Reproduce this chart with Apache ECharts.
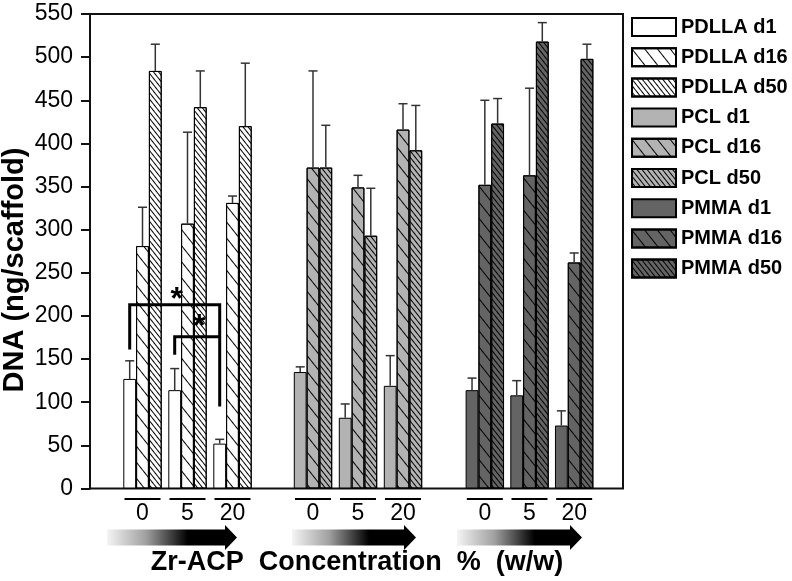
<!DOCTYPE html>
<html><head><meta charset="utf-8">
<script src="https://cdn.jsdelivr.net/npm/echarts@6/dist/echarts.min.js"></script>
<style>html,body{margin:0;padding:0;background:#fff}#c{width:792px;height:581px}</style>
</head><body><div id="c"></div>
<script>
// ---------- data ----------
const concentrations = ['0', '5', '20'];
const materials = ['PDLLA', 'PCL', 'PMMA'];
const days = ['d1', 'd16', 'd50'];

const PDLLA_d1  = [127, 114, 52];
const PDLLA_d16 = [281, 307, 331];
const PDLLA_d50 = [484, 442, 420];
const PCL_d1    = [135, 82, 119];
const PCL_d16   = [372, 349, 416];
const PCL_d50   = [372, 293, 392];
const PMMA_d1   = [114, 108, 73];
const PMMA_d16  = [352, 363, 262];
const PMMA_d50  = [423, 518, 498];

const PDLLA_d1_err  = [21, 25, 5];
const PDLLA_d16_err = [45, 106, 8];
const PDLLA_d50_err = [31, 42, 73];
const PCL_d1_err    = [6, 16, 35];
const PCL_d16_err   = [112, 14, 30];
const PCL_d50_err   = [49, 55, 52];
const PMMA_d1_err   = [14, 17, 17];
const PMMA_d16_err  = [98, 101, 11];
const PMMA_d50_err  = [29, 22, 17];

const yMin = 0, yMax = 550, yStep = 50;

// significance brackets on PDLLA d1: [fromCat, toCat, level, fromEnd, toEnd, starLevel]
const sigBrackets = [
  [0, 2, 213, 161, 95, 227],
  [1, 2, 176, 155, 176, 196]
];

const means = {
  PDLLA: [PDLLA_d1, PDLLA_d16, PDLLA_d50],
  PCL: [PCL_d1, PCL_d16, PCL_d50],
  PMMA: [PMMA_d1, PMMA_d16, PMMA_d50]
};
const errs = {
  PDLLA: [PDLLA_d1_err, PDLLA_d16_err, PDLLA_d50_err],
  PCL: [PCL_d1_err, PCL_d16_err, PCL_d50_err],
  PMMA: [PMMA_d1_err, PMMA_d16_err, PMMA_d50_err]
};

// ---------- style ----------
const FONT = '"Liberation Sans", Arial, sans-serif';
const BAR_W = 12.8;
const fills = ['#ffffff', '#b3b3b3', '#646464'];
const decals = [
  null,
  {symbol: 'rect', symbolSize: 1, dashArrayX: [1, 0], dashArrayY: [1, 9], rotation: 0.9, color: '#000'},
  {symbol: 'rect', symbolSize: 1, dashArrayX: [1, 0], dashArrayY: [1, 3], rotation: 0.9, color: '#000'}
];
const gridTop = 14, gridBottom = 92.5;
const dataGrids = [
  {left: 120, width: 135},
  {left: 290.5, width: 135},
  {left: 462.5, width: 134}
];

const grids = [{left: 90, right: 169, top: gridTop, bottom: gridBottom, show: true,
  borderColor: '#111', borderWidth: 2, backgroundColor: 'transparent'}];
dataGrids.forEach(g => grids.push({left: g.left, width: g.width, top: gridTop, bottom: gridBottom}));

const xAxes = [{type: 'value', gridIndex: 0, show: false, min: 0, max: 1}];
const yAxes = [{
  type: 'value', gridIndex: 0, min: yMin, max: yMax, interval: yStep,
  axisLine: {show: true, lineStyle: {color: '#111', width: 2}},
  axisTick: {show: true, length: 9, lineStyle: {color: '#111', width: 2}},
  axisLabel: {fontSize: 23, color: '#000', margin: 17, fontFamily: FONT},
  splitLine: {show: false}
}];
materials.forEach((m, i) => {
  xAxes.push({
    type: 'category', gridIndex: i + 1, data: concentrations,
    axisLine: {show: false}, axisTick: {show: false},
    axisLabel: {
      margin: 9.5, interval: 0,
      formatter: v => '{ln| }\n{t|' + v + '}',
      rich: {
        ln: {width: 36, height: 2, lineHeight: 2, backgroundColor: '#000', fontSize: 2},
        t: {fontSize: 23, lineHeight: 27, color: '#000', fontFamily: FONT}
      }
    }
  });
  yAxes.push({type: 'value', gridIndex: i + 1, min: yMin, max: yMax, show: false});
});

const series = [];
const legendNames = [];
materials.forEach((m, mi) => {
  days.forEach((d, di) => {
    const name = m + ' ' + d;
    legendNames.push(name);
    const itemStyle = {color: fills[mi], borderColor: '#000', borderWidth: 1};
    if (decals[di]) itemStyle.decal = decals[di];
    series.push({
      type: 'bar', name, xAxisIndex: mi + 1, yAxisIndex: mi + 1,
      data: means[m][di], barWidth: BAR_W, barGap: '0%', itemStyle, z: 2
    });
  });
  const errData = [];
  days.forEach((d, di) => {
    concentrations.forEach((c, ci) => errData.push([ci, means[m][di][ci], errs[m][di][ci], di]));
  });
  series.push({
    type: 'custom', name: m + ' err', xAxisIndex: mi + 1, yAxisIndex: mi + 1, z: 3,
    data: errData, encode: {x: 0, y: 1},
    renderItem: (params, api) => {
      const c = api.value(0), v = api.value(1), e = api.value(2), di = api.value(3);
      const top = api.coord([c, v + e]);
      const base = api.coord([c, v]);
      const x = top[0] + (di - 1) * BAR_W;
      const st = {stroke: '#333', lineWidth: 1.5};
      return {type: 'group', children: [
        {type: 'line', shape: {x1: x, y1: base[1], x2: x, y2: top[1]}, style: st},
        {type: 'line', shape: {x1: x - 4.5, y1: top[1], x2: x + 4.5, y2: top[1]}, style: st}
      ]};
    }
  });
});

series.push({
  type: 'custom', name: 'sig', xAxisIndex: 1, yAxisIndex: 1, z: 5,
  data: sigBrackets, encode: {x: 0, y: 2},
  renderItem: (params, api) => {
    const f = api.value(0), t = api.value(1), lv = api.value(2), fe = api.value(3), te = api.value(4), sl = api.value(5);
    const fx = api.coord([f, lv])[0] - BAR_W;
    const tx = api.coord([t, lv])[0] - BAR_W;
    const ly = api.coord([f, lv])[1];
    const fy = api.coord([f, fe])[1];
    const ty = api.coord([t, te])[1];
    const sy = api.coord([f, sl])[1];
    return {type: 'group', children: [
      {type: 'polyline', shape: {points: [[fx, fy], [fx, ly], [tx, ly], [tx, ty]]},
        style: {stroke: '#000', lineWidth: 3, fill: null, lineJoin: 'miter'}},
      {type: 'text', x: (fx + tx) / 2 + 2, y: sy + 8,
        style: {text: '*', fontSize: 32, fontWeight: 'bold', fill: '#000', fontFamily: FONT,
          align: 'center', verticalAlign: 'middle'}}
    ]};
  }
});

// decorative arrows
const arrowSpans = [[107, 237], [292, 416], [457, 582]];
const graphics = arrowSpans.map(([x0, tip]) => ({
  type: 'polygon', silent: true,
  shape: {points: [[x0, 529.5], [tip - 12, 529.5], [tip - 12, 525], [tip, 537.5], [tip - 12, 550], [tip - 12, 545.5], [x0, 545.5]]},
  style: {fill: new echarts.graphic.LinearGradient(0, 0, 1, 0, [
    {offset: 0, color: '#f4f4f4'}, {offset: 0.3, color: '#a0a0a0'}, {offset: 0.62, color: '#000'}, {offset: 1, color: '#000'}
  ])}
}));
graphics.push({
  type: 'text', x: 357, y: 563, silent: true,
  style: {text: 'Zr-ACP  Concentration  %  (w/w)', fontSize: 27, fontWeight: 'bold', fill: '#000',
    fontFamily: FONT, align: 'center', verticalAlign: 'middle'}
});
graphics.push({
  type: 'text', x: 15, y: 270, rotation: Math.PI / 2, silent: true,
  style: {text: 'DNA (ng/scaffold)', fontSize: 29, fontWeight: 'bold', fill: '#000',
    fontFamily: FONT, align: 'center', verticalAlign: 'middle'}
});

const chart = echarts.init(document.getElementById('c'), null, {renderer: 'canvas'});
chart.setOption({
  animation: false,
  backgroundColor: '#fff',
  grid: grids,
  xAxis: xAxes,
  yAxis: yAxes,
  legend: {
    data: legendNames, orient: 'vertical', left: 631, top: 17, padding: 0,
    itemWidth: 44, itemHeight: 18, itemGap: 10.2, icon: 'rect', selectedMode: false,
    textStyle: {fontSize: 20, fontWeight: 'bold', color: '#000', lineHeight: 18, fontFamily: FONT}
  },
  series,
  graphic: graphics
});
</script>
</body></html>
